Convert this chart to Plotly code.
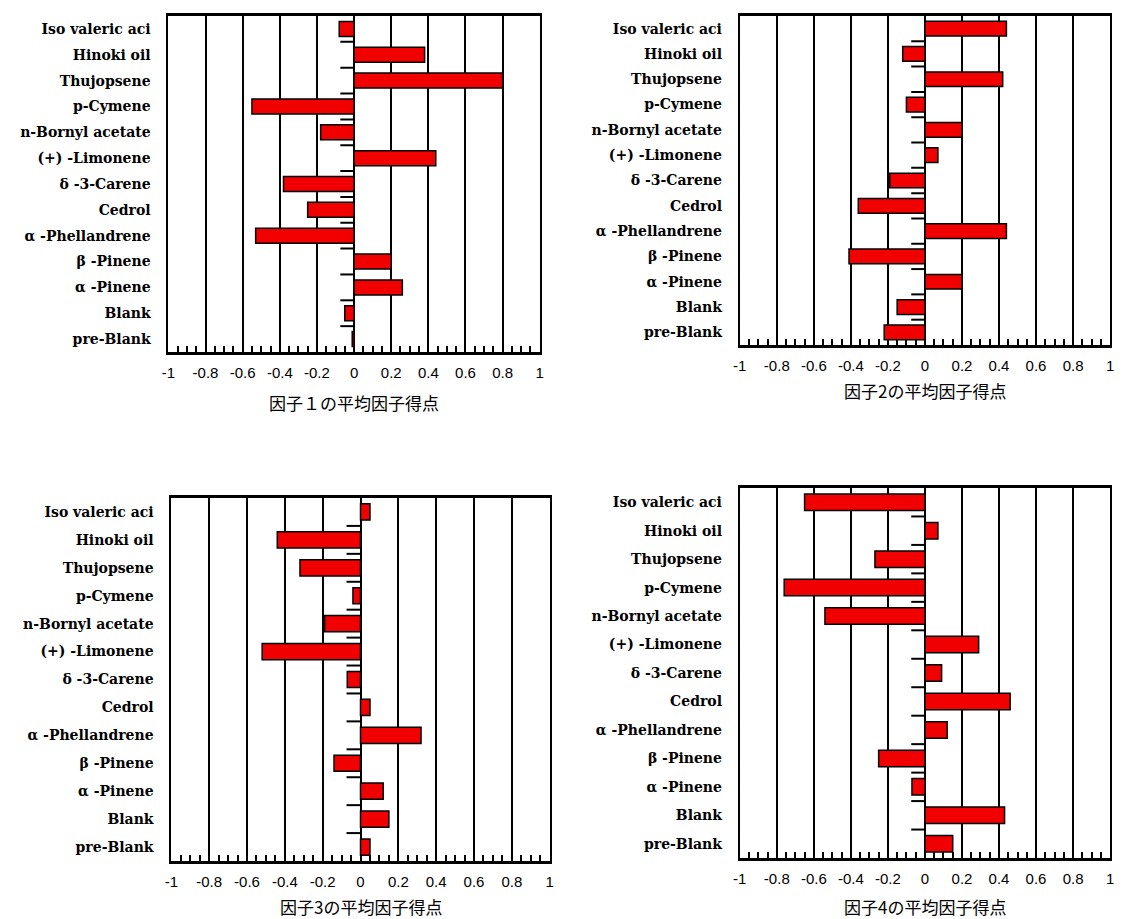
import plotly.graph_objects as go

# ---------------- data ----------------
categories = ["Iso valeric aci", "Hinoki oil", "Thujopsene", "p-Cymene",
              "n-Bornyl acetate", "(+) -Limonene", "δ -3-Carene", "Cedrol",
              "α -Phellandrene", "β -Pinene", "α -Pinene", "Blank", "pre-Blank"]

factor1 = [-0.08, 0.38, 0.80, -0.55, -0.18, 0.44, -0.38, -0.25, -0.53, 0.20, 0.26, -0.05, -0.01]
factor2 = [0.44, -0.12, 0.42, -0.10, 0.20, 0.07, -0.19, -0.36, 0.44, -0.41, 0.20, -0.15, -0.22]
factor3 = [0.05, -0.44, -0.32, -0.04, -0.19, -0.52, -0.07, 0.05, 0.32, -0.14, 0.12, 0.15, 0.05]
factor4 = [-0.65, 0.07, -0.27, -0.76, -0.54, 0.29, 0.09, 0.46, 0.12, -0.25, -0.07, 0.43, 0.15]

x_tick_values = [-1, -0.8, -0.6, -0.4, -0.2, 0, 0.2, 0.4, 0.6, 0.8, 1]
x_tick_labels = ["-1", "-0.8", "-0.6", "-0.4", "-0.2", "0", "0.2", "0.4", "0.6", "0.8", "1"]

titles = ["因子１の平均因子得点", "因子2の平均因子得点", "因子3の平均因子得点", "因子4の平均因子得点"]
series = [factor1, factor2, factor3, factor4]

# ---------------- layout geometry (pixels) ----------------
W, H = 1125, 919
# left, right, top, bottom, title centre y
panels = [
    (163, 538, 16, 352, 402),
    (740, 1114, 16, 345, 390),
    (166, 548, 498, 861, 906),
    (740, 1114, 488, 858, 906),
]

BAR_RED = "rgb(240,0,0)"
fig = go.Figure()
layout = dict(
    width=W, height=H,
    margin=dict(l=0, r=0, t=0, b=0),
    paper_bgcolor="white", plot_bgcolor="white",
    showlegend=False,
    shapes=[], annotations=[],
)

for i, (vals, title, (l, r, t, b, ty)) in enumerate(zip(series, titles, panels), start=1):
    xa = "x" if i == 1 else f"x{i}"
    ya = "y" if i == 1 else f"y{i}"
    fig.add_trace(go.Bar(
        x=vals, y=categories, orientation="h",
        marker=dict(color=BAR_RED, line=dict(color="black", width=1.5)),
        width=0.58, xaxis=xa, yaxis=ya, hoverinfo="x+y",
    ))
    xkey = "xaxis" if i == 1 else f"xaxis{i}"
    ykey = "yaxis" if i == 1 else f"yaxis{i}"
    layout[xkey] = dict(
        domain=[l / W, r / W], anchor=ya,
        range=[-1, 1], tickvals=x_tick_values, ticktext=x_tick_labels,
        showgrid=True, gridcolor="black", gridwidth=1.5,
        zeroline=True, zerolinecolor="black", zerolinewidth=2,
        showline=True, linecolor="black", linewidth=2.5, mirror=True,
        ticks="inside", ticklen=6, tickwidth=1.5, tickcolor="black",
        minor=dict(dtick=0.05, tick0=0, ticks="inside", ticklen=6,
                   tickwidth=1.5, tickcolor="black", showgrid=False),
        tickfont=dict(family="Liberation Sans", size=15, color="black"),
        ticklabelstandoff=5,
        fixedrange=True,
    )
    layout[ykey] = dict(
        domain=[1 - b / H, 1 - t / H], anchor=xa,
        type="category", categoryorder="array", categoryarray=categories,
        range=[len(categories) - 0.5, -0.5],
        showgrid=False, zeroline=False,
        showline=True, linecolor="black", linewidth=2, mirror=True,
        ticks="", ticklabelstandoff=13,
        tickfont=dict(family="DejaVu Serif", size=14, color="black", weight="bold"),
        fixedrange=True,
    )
    # short tick marks at category boundaries on the zero line
    for k in range(len(categories) - 1):
        layout["shapes"].append(dict(
            type="line", xref=xa, yref=ya,
            x0=-0.074, x1=0, y0=k + 0.5, y1=k + 0.5,
            line=dict(color="black", width=2),
        ))
    layout["annotations"].append(dict(
        text=title, showarrow=False,
        xref="paper", yref="paper",
        x=(l + r) / 2 / W, y=1 - ty / H,
        xanchor="center", yanchor="middle",
        font=dict(family="Noto Sans CJK JP", size=17, color="black"),
    ))

fig.update_layout(**layout)
fig.write_html("out.html",
               config={"displayModeBar": False},
               post_script="document.body.style.margin='0px';document.body.style.overflow='hidden';")
